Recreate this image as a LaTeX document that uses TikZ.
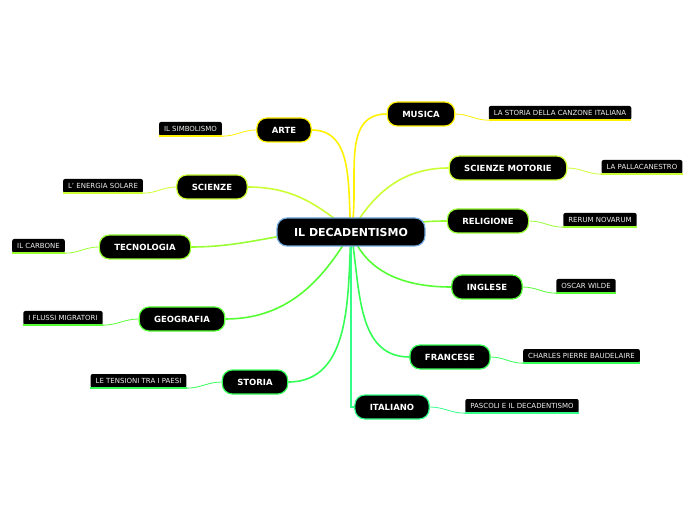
\documentclass[tikz,border=0pt]{standalone}
\usepackage{fontspec}
\setmainfont{DejaVu Sans}
\usepackage{tikz}
\usetikzlibrary{backgrounds}

\definecolor{cArte}{HTML}{FFF200}
\definecolor{cSci}{HTML}{CCFF33}
\definecolor{cTec}{HTML}{99FF33}
\definecolor{cGeo}{HTML}{55FF33}
\definecolor{cSto}{HTML}{33FF55}
\definecolor{cIta}{HTML}{33FF88}
\definecolor{cRoot}{HTML}{6FA8DC}

\begin{document}
\begin{tikzpicture}[x=1pt, y=1pt,
        radice/.style={rectangle, rounded corners=10pt, draw=cRoot, line width=1.2pt, fill=black, text=white, minimum height=28pt, inner xsep=17pt, font=\fontsize{11}{13}\selectfont\bfseries},
        ramo/.style={rectangle, rounded corners=10pt, draw=#1, line width=1.2pt, fill=black, text=white, minimum height=24pt, inner xsep=15pt, font=\fontsize{8.5}{10}\selectfont\bfseries},
        foglia/.style={rectangle, rounded corners=2pt, fill=black, text=white!88!gray, minimum height=14pt, inner xsep=5pt, inner ysep=0pt, font=\fontsize{7}{8}\selectfont},
        linea/.style={draw=#1, line width=1.6pt},
        filo/.style={draw=#1, line width=0.8pt},
        sotto/.style={draw=#1, line width=1.6pt}]
    \useasboundingbox (0,0) rectangle (696,520);
    \node[radice] (root) at (351,288) {IL DECADENTISMO};
    % rami
    \node[ramo=cArte] (arte) at (284,390) {ARTE};
    \node[ramo=cArte] (musica) at (421,406) {MUSICA};
    \node[ramo=cSci] (scienze) at (212,333) {SCIENZE};
    \node[ramo=cSci] (scimot) at (508,352) {SCIENZE MOTORIE};
    \node[ramo=cTec] (tecno) at (145,273) {TECNOLOGIA};
    \node[ramo=cTec] (religione) at (488,299) {RELIGIONE};
    \node[ramo=cGeo] (geografia) at (182,201) {GEOGRAFIA};
    \node[ramo=cGeo] (inglese) at (487,233) {INGLESE};
    \node[ramo=cSto] (storia) at (255,138) {STORIA};
    \node[ramo=cSto] (francese) at (450,163) {FRANCESE};
    \node[ramo=cIta] (italiano) at (392,113) {ITALIANO};
    % foglie
    \node[foglia] (simbolismo) at (190.5,391) {IL SIMBOLISMO};
    \node[foglia] (canzone) at (560,407) {LA STORIA DELLA CANZONE ITALIANA};
    \node[foglia] (energia) at (103,334) {L' ENERGIA SOLARE};
    \node[foglia] (pallacanestro) at (642,353) {LA PALLACANESTRO};
    \node[foglia] (carbone) at (38.5,274) {IL CARBONE};
    \node[foglia] (rerum) at (600,300) {RERUM NOVARUM};
    \node[foglia] (flussi) at (63,202) {I FLUSSI MIGRATORI};
    \node[foglia] (wilde) at (586,234) {OSCAR WILDE};
    \node[foglia] (tensioni) at (138.5,139) {LE TENSIONI TRA I PAESI};
    \node[foglia] (baudelaire) at (581.5,164) {CHARLES PIERRE BAUDELAIRE};
    \node[foglia] (pascoli) at (522,114) {PASCOLI E IL DECADENTISMO};

    \begin{pgfonlayer}{background}
        \draw[linea=cArte] (root.center) to[out=95, in=0] (arte.east);
        \draw[linea=cArte] (root.center) to[out=78, in=180] (musica.west);
        \draw[linea=cSci] (root.center) to[out=140, in=0] (scienze.east);
        \draw[linea=cSci] (root.center) to[out=60, in=180] (scimot.west);
        \draw[linea=cTec] (root.center) to[out=176, in=0] (tecno.east);
        \draw[linea=cTec] (root.center) to[out=8, in=180] (religione.west);
        \draw[linea=cGeo] (root.center) to[out=-120, in=0] (geografia.east);
        \draw[linea=cGeo] (root.center) to[out=-70, in=180] (inglese.west);
        \draw[linea=cSto] (root.center) to[out=-93, in=0] (storia.east);
        \draw[linea=cSto] (root.center) to[out=-80, in=180] (francese.west);
        \draw[linea=cIta] (root.center) |- (italiano.west);
    \end{pgfonlayer}

    \draw[filo=cArte] (arte.west) to[out=180, in=0] (simbolismo.south east);
    \draw[filo=cArte] (musica.east) to[out=0, in=180] (canzone.south west);
    \draw[filo=cSci] (scienze.west) to[out=180, in=0] (energia.south east);
    \draw[filo=cSci] (scimot.east) to[out=0, in=180] (pallacanestro.south west);
    \draw[filo=cTec] (tecno.west) to[out=180, in=0] (carbone.south east);
    \draw[filo=cTec] (religione.east) to[out=0, in=180] (rerum.south west);
    \draw[filo=cGeo] (geografia.west) to[out=180, in=0] (flussi.south east);
    \draw[filo=cGeo] (inglese.east) to[out=0, in=180] (wilde.south west);
    \draw[filo=cSto] (storia.west) to[out=180, in=0] (tensioni.south east);
    \draw[filo=cSto] (francese.east) to[out=0, in=180] (baudelaire.south west);
    \draw[filo=cIta] (italiano.east) to[out=0, in=180] (pascoli.south west);

    % sottolineature
    \foreach \f/\c in {simbolismo/cArte, canzone/cArte, energia/cSci, pallacanestro/cSci, carbone/cTec, rerum/cTec, flussi/cGeo, wilde/cGeo, tensioni/cSto, baudelaire/cSto, pascoli/cIta}
        \draw[sotto=\c] (\f.south west) -- (\f.south east);
\end{tikzpicture}
\end{document}
